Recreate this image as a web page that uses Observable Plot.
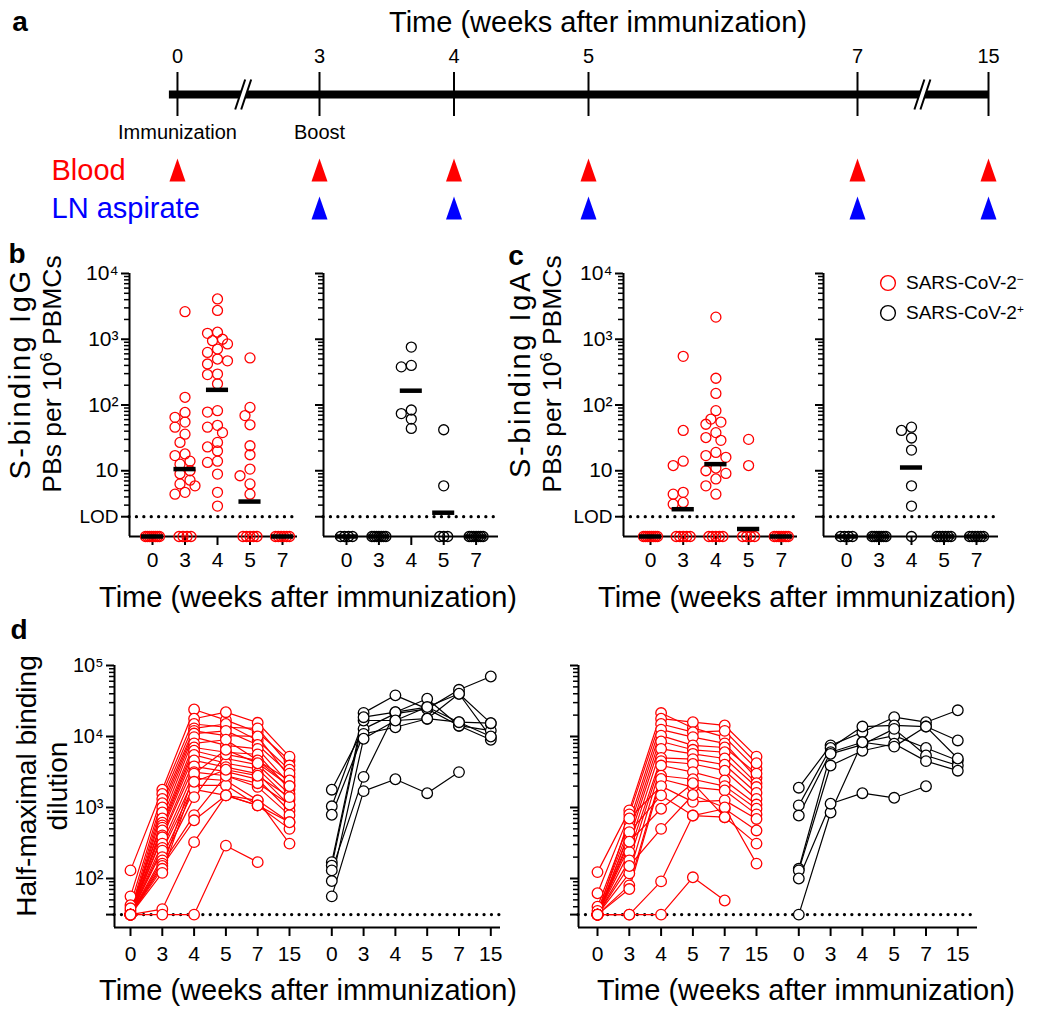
<!DOCTYPE html>
<html><head><meta charset="utf-8">
<script src="https://cdn.jsdelivr.net/npm/d3@7"></script>
<script src="https://cdn.jsdelivr.net/npm/@observablehq/plot@0.6"></script>
<style>
body{margin:0;background:#fff;font-family:"Liberation Sans",Arial,Helvetica,sans-serif;color:#000}
#fig{position:relative;width:1050px;height:1012px;overflow:hidden;background:#fff}
.t{position:absolute;white-space:nowrap;line-height:1;transform:translate(-50%,-50%)}
.lab{font-weight:bold;font-size:28px}
.ttl{font-size:29px}
.ylab{font-size:28px;line-height:31px;text-align:center;transform:translate(-50%,-50%) rotate(-90deg)}
.l1{font-size:29px;letter-spacing:2.6px}
.l2{font-size:26.5px}
.sup{font-size:0.62em;position:relative;top:-0.55em}
.leg{position:absolute;font-size:19px;white-space:nowrap;line-height:1}
</style></head><body><div id="fig"></div>
<script>
// ================= DATA =================
// Panel a (timeline)
const timelineWeeks = [0, 3, 4, 5, 7, 15];
const bloodWeeks = [0, 3, 4, 5, 7, 15];
const lnWeeks = [3, 4, 5, 7, 15];
const eventWeeks = [0, 3];
const eventLabels = ["Immunization", "Boost"];

// Panels b, c (PBs per 10^6 PBMCs); samples below LOD are shown at 1
const weeksBC = ["0", "3", "4", "5", "7"];
const lodPB = 2;
const belowPB = 1;
const igGNeg = [
  [1, 1, 1, 1, 1, 1, 1, 1],
  [2630, 131, 77, 65, 55, 46, 36, 27, 18, 17, 14, 12.6, 10, 9, 7.2, 6.3, 5.9, 4.7, 4.4, 1, 1, 1, 1],
  [4100, 2740, 1280, 1230, 1000, 950, 850, 710, 630, 500, 470, 420, 295, 290, 210, 82, 78, 49, 46, 38, 27, 23, 20, 14, 13.4, 8.9, 4.7, 2.9],
  [520, 92, 69, 50, 24, 17.5, 10.6, 8.4, 6.3, 4.4, 1, 1, 1, 1, 1],
  [1, 1, 1, 1, 1, 1]
];
const igGNegMedian = [1, 10.6, 170, 3.4, 1];
const igGPos = [
  [1, 1, 1, 1],
  [1, 1, 1, 1, 1, 1, 1],
  [760, 400, 380, 84, 74, 61, 44],
  [42, 5.9, 1, 1, 1],
  [1, 1, 1, 1, 1, 1, 1]
];
const igGPosMedian = [1, 1, 165, 2.3, 1];
const igANeg = [
  [1, 1, 1, 1, 1, 1, 1, 1],
  [550, 41, 14, 12, 4.7, 4.4, 3.3, 3.1, 1, 1, 1, 1, 1],
  [2170, 255, 150, 82, 61, 55, 51, 38, 32, 29, 19, 17, 16, 11, 10, 9.1, 7.5, 5.9, 4.4, 1, 1, 1, 1, 1],
  [30, 12, 1, 1, 1, 1],
  [1, 1, 1, 1, 1, 1, 1]
];
const igANegMedian = [1, 2.6, 12.6, 1.3, 1];
const igAPos = [
  [1, 1, 1, 1],
  [1, 1, 1, 1, 1, 1, 1],
  [46, 41, 31.5, 20.6, 5.9, 2.9, 1],
  [1, 1, 1, 1, 1, 1],
  [1, 1, 1, 1, 1, 1]
];
const igAPosMedian = [1, 1, 11.2, 1, 1];

// Panel d (half-maximal binding dilution); one row per participant, weeks 0,3,4,5,7,15
const weeksD = ["0", "3", "4", "5", "7", "15"];
const lodD = 31;
const dLeftNeg = [
  [130, 1780, 24000, 17000, 11500, 4600],
  [56, 1550, 17800, 22000, 15600, 5200],
  [42, 1320, 15000, 13500, 13000, 3900],
  [35, 1150, 13000, 15000, 8800, 3400],
  [31, 1000, 12000, 10300, 10000, 2680],
  [31, 850, 11000, 12000, 7600, 3000],
  [31, 700, 9800, 7500, 6700, 2150],
  [38, 610, 8000, 9000, 4600, 2400],
  [31, 560, 7000, 6000, 5600, 1800],
  [31, 520, 6300, 4900, 4000, 1550],
  [31, 475, 5500, 4200, 3500, 1300],
  [31, 405, 4600, 3700, 3000, 1070],
  [31, 380, 3800, 3200, 2500, 900],
  [31, 310, 3150, 2800, 1950, 780],
  [31, 270, 2600, 2400, 1260, 620],
  [31, 247, 2050, 2050, 1070, 500],
  [31, 200, 1800, 1480, 1260, 310],
  [31, 180, 1400, 5600, 4600, 2000],
  [31, 162, 780, 2800, 2200, 1100],
  [31, 150, 660, 1480, 1070, 620],
  [31, 137, 3000, 6500, 4200, 2000],
  [31, 120, 2300, 3400, 2800, 1400],
  [31, 37, 325, 1480, 1070, null],
  [31, 31, 31, 290, 170, null]
];
const dLeftPos = [
  [1780, 12800, 21000, 24500, 14200, 12100],
  [1040, 16800, 16800, 26000, 15900, 15400],
  [790, 10900, 13500, 17800, 40000, 9800],
  [170, 21500, 38000, 24500, 45500, 70000],
  [152, 18700, 22000, 34000, 14200, 9000],
  [130, 2700, 22000, 26000, 40000, 15400],
  [92, 9300, 16800, 17800, 15900, 10000],
  [56, 1700, 2500, 1590, 3150, null]
];
const dRightNeg = [
  [123, 910, 21400, 13200, 9800, 3500],
  [62, 800, 17800, 15900, 14300, 5200],
  [40, 620, 15000, 11500, 12000, 4200],
  [35, 520, 12500, 9800, 8000, 2600],
  [31, 425, 10300, 7500, 7000, 3000],
  [31, 360, 8500, 6500, 6000, 2200],
  [31, 290, 6700, 5700, 4900, 1940],
  [31, 235, 5000, 4800, 4000, 1600],
  [31, 180, 4500, 4100, 3300, 1320],
  [31, 118, 3900, 3150, 2400, 1100],
  [31, 80, 2800, 2500, 2000, 960],
  [31, 71, 2520, 1940, 1740, 800],
  [31, 700, 2000, 1200, 1260, 690],
  [31, 450, 1480, 770, 960, 475],
  [31, 330, 960, 2200, 730, 310],
  [31, 150, 500, 1500, 1000, 162],
  [31, 31, 91, 770, 730, null],
  [31, 31, 31, 104, 49, null]
];
const dRightPos = [
  [1900, 7500, 11500, 18700, 15900, 23400],
  [1070, 6900, 13800, 14300, 13800, 8800],
  [770, 6000, 8300, 10300, 6900, 4600],
  [137, 5700, 7700, 12800, 5400, 3900],
  [130, 3900, 6300, 7900, 4500, 3300],
  [31, 850, 8300, 7200, 13800, 4900],
  [100, 1130, 1590, 1370, 1990, null]
];

// ================= LAYOUT / STYLE =================
const RED = "#ff0000", BLUE = "#0000ff";
const FONT = "'Liberation Sans', Arial, Helvetica, sans-serif";
const STYLE = `overflow:visible;background:transparent;font-family:${FONT};color:#000;`;
const fig = document.getElementById("fig");
function place(el, left, top) {
  el.style.position = "absolute";
  el.style.left = left + "px";
  el.style.top = top + "px";
  fig.appendChild(el);
}
function addDiv(html, cx, cy, cls) {
  const d = document.createElement("div");
  d.className = "t " + cls;
  d.innerHTML = html;
  d.style.left = cx + "px";
  d.style.top = cy + "px";
  fig.appendChild(d);
}
const supChars = {2: "²", 3: "³", 4: "⁴", 5: "⁵"};
const powFmt = v => { const e = Math.round(Math.log10(v)); return e === 1 ? "10" : "10" + supChars[e]; };
function minorTicks(lo, hi) {
  const out = [];
  for (let e = -1; e <= 6; e++) for (let m = 2; m <= 9; m++) {
    const v = m * 10 ** e;
    if (v > lo * 1.05 && v < hi) out.push(v);
  }
  return out;
}

// ---------- panel a ----------
const A_X3 = 319, A_PX_WEEK = 134.5;           // pixel of week 3 and px per week
const brk = w => (w === 0 ? 1.944 : w > 7 ? 7.974 : w); // broken time axis
const breakPos = [2.44, 7.49];
const tallTriangle = {draw(ctx) { ctx.moveTo(0, -12); ctx.lineTo(8, 11); ctx.lineTo(-8, 11); ctx.closePath(); }};
const breakGap = {draw(ctx) { ctx.moveTo(-9, 15); ctx.lineTo(1, -15); ctx.lineTo(7, -15); ctx.lineTo(-3, 15); ctx.closePath(); }};
const breakLines = {draw(ctx) { ctx.moveTo(-9, 15); ctx.lineTo(1, -15); ctx.moveTo(-3, 15); ctx.lineTo(7, -15); }};
const rowsA = ["tick", "axis", "event", "Blood", "LN aspirate"];
const chartA = Plot.plot({
  width: 1050, height: 232, marginLeft: 0, marginRight: 0, marginTop: 56, marginBottom: 24,
  x: {domain: [3 - A_X3 / A_PX_WEEK, 3 + (1050 - A_X3) / A_PX_WEEK], axis: null},
  y: {type: "point", domain: rowsA, padding: 0, axis: null},
  style: STYLE,
  marks: [
    Plot.ruleY([{row: "axis", a: brk(0) - 0.06, b: brk(15)}], {y: "row", x1: "a", x2: "b", strokeWidth: 8}),
    Plot.ruleX(timelineWeeks, {x: brk, y1: () => "axis", y2: () => "axis", insetTop: -22, insetBottom: -22, strokeWidth: 2}),
    Plot.dot(breakPos, {x: d => d, y: () => "axis", symbol: breakGap, fill: "white", r: 5}),
    Plot.dot(breakPos, {x: d => d, y: () => "axis", symbol: breakLines, fill: "none", stroke: "black", strokeWidth: 2, r: 5}),
    Plot.text(timelineWeeks, {x: brk, y: () => "tick", text: d => String(d), fontSize: 20}),
    Plot.text(eventWeeks, {x: brk, y: () => "event", text: (d, i) => eventLabels[i], fontSize: 20}),
    Plot.dot(bloodWeeks, {x: brk, y: () => "Blood", symbol: tallTriangle, fill: RED, r: 8}),
    Plot.dot(lnWeeks, {x: brk, y: () => "LN aspirate", symbol: tallTriangle, fill: BLUE, r: 8}),
    Plot.text(["Blood"], {frameAnchor: "left", dx: 51, y: d => d, textAnchor: "start", fill: RED, fontSize: 29}),
    Plot.text(["LN aspirate"], {frameAnchor: "left", dx: 51, y: d => d, textAnchor: "start", fill: BLUE, fontSize: 29})
  ]
});
place(chartA, 0, 0);

// ---------- panels b, c ----------
const PB_TOP = 273, PB_BOT = 536;
const PX_DEC_PB = (PB_BOT - PB_TOP) / 4;
function spread(vals) {
  const out = vals.map(() => 0);
  const below = [], above = [];
  vals.forEach((v, j) => (v <= belowPB ? below : above).push([v, j]));
  const nb = below.length, span = Math.min(14, (nb - 1) * 4);
  below.forEach(([, j], k) => { out[j] = nb > 1 ? -span / 2 + span * k / (nb - 1) : 0; });
  above.sort((a, b) => b[0] - a[0]);
  const placed = [], cands = [0, -5, 5, -10, 10];
  for (const [v, j] of above) {
    const y = Math.log10(v) * PX_DEC_PB;
    let best = 0, bestD = -1;
    for (const c of cands) {
      let d = Infinity;
      for (const p of placed) d = Math.min(d, Math.hypot(p.x - c, p.y - y));
      if (d >= 8.5) { best = c; break; }
      if (d > bestD) { bestD = d; best = c; }
    }
    placed.push({x: best, y});
    out[j] = best;
  }
  return out;
}
function dotPanel(g, groups, medians, color, labels) {
  const left = g.axis - 80, top = PB_TOP - 20, right = g.end + 8, bottom = PB_BOT + 45;
  const x0 = -(g.first - g.axis) / g.step, x1 = x0 + (g.end - g.axis) / g.step;
  const rows = [];
  groups.forEach((vals, i) => {
    const off = spread(vals);
    vals.forEach((v, j) => rows.push({x: i + off[j] / g.step, v}));
  });
  const med = medians.map((v, i) => ({i, v}));
  const chart = Plot.plot({
    width: right - left, height: bottom - top,
    marginLeft: g.axis - left, marginRight: right - g.end, marginTop: PB_TOP - top, marginBottom: bottom - PB_BOT,
    x: {domain: [x0, x1], axis: null},
    y: {type: "log", domain: [belowPB, 1e4], axis: null},
    style: STYLE,
    marks: [
      Plot.ruleY([lodPB], {x1: () => x0, x2: () => x1, strokeWidth: 3.2, strokeDasharray: "0.1 7.3", strokeLinecap: "round"}),
      Plot.axisY([10, 100, 1000, 10000], {anchor: "left", tickSize: 8, tickPadding: 3, tickFormat: labels ? powFmt : () => "", fontSize: 21, strokeWidth: 2, label: null}),
      Plot.axisY(minorTicks(lodPB, 1e4), {anchor: "left", tickSize: 5, tickFormat: () => "", strokeWidth: 1.5, label: null}),
      Plot.axisY([lodPB], {anchor: "left", tickSize: 8, tickPadding: 3, tickFormat: labels ? () => "LOD" : () => "", fontSize: 19, strokeWidth: 2, label: null}),
      Plot.ruleX([x0], {y1: () => belowPB, y2: () => 1e4, strokeWidth: 2}),
      Plot.ruleY([belowPB], {x1: () => x0, x2: () => x1, strokeWidth: 2}),
      Plot.axisX(d3.range(weeksBC.length), {anchor: "bottom", tickSize: 9, tickPadding: 7, tickFormat: i => weeksBC[i], fontSize: 21, strokeWidth: 2, label: null}),
      Plot.dot(rows, {x: "x", y: "v", r: 5, stroke: color, strokeWidth: 1.3, fill: "none"}),
      Plot.ruleY(med, {y: "v", x1: d => d.i - 0.34, x2: d => d.i + 0.34, strokeWidth: 4.5, stroke: "black"})
    ]
  });
  place(chart, left, top);
}
dotPanel({axis: 129, first: 152, step: 32.5, end: 297}, igGNeg, igGNegMedian, RED, true);
dotPanel({axis: 323, first: 346, step: 32.4, end: 498}, igGPos, igGPosMedian, "black", false);
dotPanel({axis: 623, first: 650, step: 32.7, end: 797}, igANeg, igANegMedian, RED, true);
dotPanel({axis: 823, first: 846, step: 32.5, end: 998}, igAPos, igAPosMedian, "black", false);

// ---------- panel d ----------
const D_TOP = 665, D_BOT = 927, D_MIN = 20.4, D_MAX = 1e5;
const BLACK_OFFSET = 6.33;
function seriesRows(series, offset, key) {
  const rows = [];
  series.forEach((s, k) => s.forEach((v, i) => rows.push({id: key + k, x: i + offset, v})));
  return rows;
}
function linePanel(g, neg, pos, labels) {
  const left = g.axis - 80, top = D_TOP - 25, right = g.end + 8, bottom = D_BOT + 45;
  const x0 = -(g.first - g.axis) / g.step, x1 = x0 + (g.end - g.axis) / g.step;
  const redRows = seriesRows(neg, 0, "n"), blackRows = seriesRows(pos, BLACK_OFFSET, "p");
  const tickPos = weeksD.map((w, i) => i).concat(weeksD.map((w, i) => i + BLACK_OFFSET));
  const tickLab = weeksD.concat(weeksD);
  const chart = Plot.plot({
    width: right - left, height: bottom - top,
    marginLeft: g.axis - left, marginRight: right - g.end, marginTop: D_TOP - top, marginBottom: bottom - D_BOT,
    x: {domain: [x0, x1], axis: null},
    y: {type: "log", domain: [D_MIN, D_MAX], axis: null},
    style: STYLE,
    marks: [
      Plot.ruleY([lodD], {x1: () => x0, x2: () => x1, strokeWidth: 3.2, strokeDasharray: "0.1 7.3", strokeLinecap: "round"}),
      Plot.axisY([100, 1000, 10000, 100000], {anchor: "left", tickSize: 8, tickPadding: 3, tickFormat: labels ? powFmt : () => "", fontSize: 20, strokeWidth: 2, label: null}),
      Plot.axisY(minorTicks(lodD, 1e5), {anchor: "left", tickSize: 5, tickFormat: () => "", strokeWidth: 1.5, label: null}),
      Plot.axisY([lodD], {anchor: "left", tickSize: 8, tickPadding: 3, tickFormat: labels ? () => "LOD" : () => "", fontSize: 19, strokeWidth: 2, label: null}),
      Plot.ruleX([x0], {y1: () => D_MIN, y2: () => D_MAX, strokeWidth: 2}),
      Plot.ruleY([D_MIN], {x1: () => x0, x2: () => x1, strokeWidth: 2}),
      Plot.axisX(tickPos, {anchor: "bottom", tickSize: 9, tickPadding: 10, tickFormat: (d, i) => tickLab[i], fontSize: 21, strokeWidth: 2, label: null}),
      Plot.line(redRows, {x: "x", y: "v", z: "id", stroke: RED, strokeWidth: 1.2}),
      Plot.dot(redRows.filter(d => d.v != null), {x: "x", y: "v", r: 5.3, stroke: RED, strokeWidth: 1.3, fill: "white"}),
      Plot.line(blackRows, {x: "x", y: "v", z: "id", stroke: "black", strokeWidth: 1.2}),
      Plot.dot(blackRows.filter(d => d.v != null), {x: "x", y: "v", r: 5.3, stroke: "black", strokeWidth: 1.3, fill: "white"})
    ]
  });
  place(chart, left, top);
}
linePanel({axis: 114, first: 130, step: 31.8, end: 500}, dLeftNeg, dLeftPos, true);
linePanel({axis: 578, first: 597, step: 31.8, end: 977}, dRightNeg, dRightPos, false);

// ---------- text ----------
addDiv("a", 20, 22, "lab");
addDiv("b", 17, 254, "lab");
addDiv("c", 516, 256, "lab");
addDiv("d", 19, 630, "lab");
addDiv("Time (weeks after immunization)", 598, 22, "ttl");
addDiv("Time (weeks after immunization)", 308, 597, "ttl");
addDiv("Time (weeks after immunization)", 807, 597, "ttl");
addDiv("Time (weeks after immunization)", 308, 990, "ttl");
addDiv("Time (weeks after immunization)", 806, 990, "ttl");
addDiv('<span class="l1">S-binding IgG</span><br><span class="l2">PBs per 10<span class="sup">6</span> PBMCs</span>', 38, 374, "ylab");
addDiv('<span class="l1">S-binding IgA</span><br><span class="l2">PBs per 10<span class="sup">6</span> PBMCs</span>', 538, 374, "ylab");
addDiv("Half-maximal binding<br>dilution", 42, 786, "ylab");

// legend
function legendRow(color, label, cy) {
  const d = document.createElement("div");
  d.className = "leg";
  d.style.left = "879px";
  d.style.top = (cy - 10) + "px";
  d.innerHTML = `<svg width="18" height="18" style="vertical-align:-3px;margin-right:9px"><circle cx="9" cy="9" r="7.4" fill="none" stroke="${color}" stroke-width="1.4"/></svg>SARS-CoV-2<span class="sup">${label}</span>`;
  fig.appendChild(d);
}
legendRow(RED, "−", 283);
legendRow("black", "+", 313);
</script></body></html>
